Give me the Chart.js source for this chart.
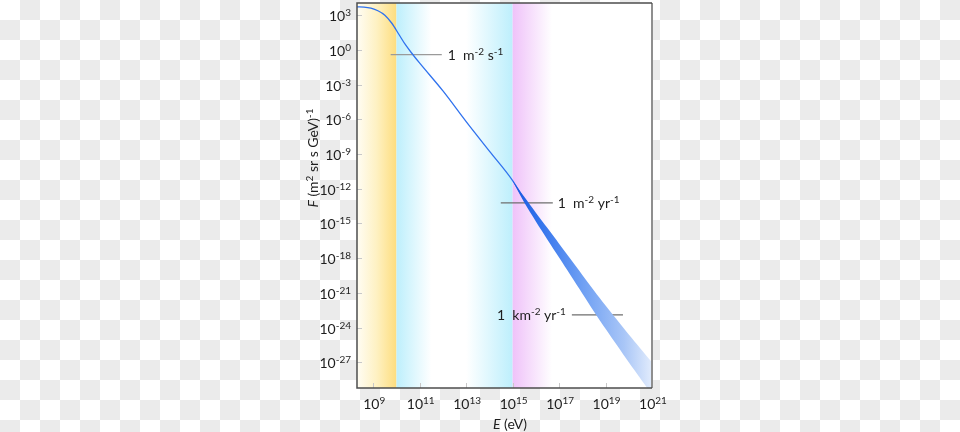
<!DOCTYPE html>
<html>
<head>
<meta charset="utf-8">
<script src="https://cdn.jsdelivr.net/npm/chart.js@4.4.1/dist/chart.umd.min.js"></script>
<style>
  html, body { margin: 0; padding: 0; }
  body {
    width: 960px; height: 432px; overflow: hidden;
    background: repeating-conic-gradient(#ebebeb 0 25%, #ffffff 0 50%) 0 0 / 40px 40px;
  }
  canvas { display: block; }
</style>
</head>
<body>
<canvas id="myChart" width="960" height="432"></canvas>
<script>
// cosmic ray flux, all values are log10 (E in eV, F in m^-2 sr^-1 s^-1 GeV^-1)
var logE = [8.3, 8.6, 8.9, 9.2, 9.5, 9.8, 10.1, 10.4, 10.7, 11.0, 12.0, 13.0, 14.0, 15.0, 15.5];
var logF = [3.72, 3.70, 3.60, 3.38, 3.00, 2.30, 1.35, 0.40, -0.40, -1.15, -3.55, -6.20, -8.75, -11.30, -12.95];

// above the knee the measurement turns into a band
var bandE    = [15.0, 15.5, 16.0, 16.5, 17.0, 17.5, 18.0, 18.5, 19.0, 19.5, 20.0, 20.5, 21.0];
var bandMid  = [-11.30, -12.95, -14.45, -15.9, -17.35, -18.8, -20.25, -21.7, -23.1, -24.45, -25.8, -27.1, -28.4];
var bandHalf = [0.02, 0.25, 0.38, 0.5, 0.6, 0.7, 0.8, 0.9, 1.0, 1.1, 1.2, 1.3, 1.4];

// axis
var xRange = [8.3, 21];
var yRange = [-29.2, 4.05];
var xTicks = [9, 11, 13, 15, 17, 19, 21];
var yTicks = [3, 0, -3, -6, -9, -12, -15, -18, -21, -24, -27];

// shaded energy regions: solar (yellow), galactic (cyan), knee (magenta)
var regionEdges = [8.3, 10, 15, 16.7];

// rate marks
var markLevel = [-0.42, -13.22, -22.9];
var markFrom  = [9.75, 14.49, 17.55];
var markTo    = [11.95, 16.73, 19.75];

var FONT = 'Lato, "Open Sans", sans-serif';

function pts(xs, ys) {
    return xs.map(function(e, i) { return { x: Math.pow(10, e), y: Math.pow(10, ys[i]) }; });
}

// text with superscripts: parts = [[text, 'n'|'i'|'s'], ...]
function richWidth(ctx, parts) {
    var w = 0;
    parts.forEach(function(p) {
        ctx.font = fontFor(p[1]);
        w += ctx.measureText(p[0]).width;
    });
    return w;
}
function fontFor(kind) {
    if (kind == 's') return '10px ' + FONT;
    if (kind == 'i') return 'italic 14px ' + FONT;
    return '14px ' + FONT;
}
function drawRich(ctx, parts, x, y, align) {
    var w = richWidth(ctx, parts);
    var cx = x;
    if (align == 'center') cx = x - w / 2;
    if (align == 'right') cx = x - w;
    ctx.textBaseline = 'alphabetic';
    ctx.textAlign = 'left';
    parts.forEach(function(p) {
        ctx.font = fontFor(p[1]);
        ctx.fillText(p[0], cx, p[1] == 's' ? y - 5 : y);
        cx += ctx.measureText(p[0]).width;
    });
}

var background = {
    id: 'background',
    beforeDatasetsDraw: function(chart) {
        var ctx = chart.ctx, a = chart.chartArea, xs = chart.scales.x;
        var px = regionEdges.map(function(e) { return xs.getPixelForValue(Math.pow(10, e)); });
        ctx.save();
        ctx.fillStyle = '#ffffff';
        ctx.fillRect(a.left, a.top, a.width, a.height);

        var g = ctx.createLinearGradient(px[0], 0, px[1], 0);
        g.addColorStop(0, '#fffdf4');
        g.addColorStop(0.5, '#fef1c2');
        g.addColorStop(1, '#fddd7e');
        ctx.fillStyle = g;
        ctx.fillRect(px[0], a.top, px[1] - px[0], a.height);

        g = ctx.createLinearGradient(px[1], 0, px[2], 0);
        g.addColorStop(0, '#bdeffc');
        g.addColorStop(0.3, '#ffffff');
        g.addColorStop(0.6, '#ffffff');
        g.addColorStop(1, '#bdeffc');
        ctx.fillStyle = g;
        ctx.fillRect(px[1], a.top, px[2] - px[1], a.height);

        g = ctx.createLinearGradient(px[2], 0, px[3], 0);
        g.addColorStop(0, '#efc2f9');
        g.addColorStop(1, 'rgba(255,255,255,1)');
        ctx.fillStyle = g;
        ctx.fillRect(px[2], a.top, px[3] - px[2], a.height);
        ctx.restore();
    }
};

var frame = {
    id: 'frame',
    afterDraw: function(chart) {
        var ctx = chart.ctx, a = chart.chartArea, xs = chart.scales.x, ys = chart.scales.y;
        ctx.save();

        // inner ticks
        ctx.strokeStyle = '#c8c8c8';
        ctx.lineWidth = 1;
        xTicks.forEach(function(e) {
            var x = Math.round(xs.getPixelForValue(Math.pow(10, e))) + 0.5;
            ctx.beginPath(); ctx.moveTo(x, a.bottom); ctx.lineTo(x, a.bottom - 5); ctx.stroke();
        });
        yTicks.forEach(function(e) {
            var y = Math.round(ys.getPixelForValue(Math.pow(10, e))) + 0.5;
            ctx.beginPath(); ctx.moveTo(a.left, y); ctx.lineTo(a.left + 5, y); ctx.stroke();
        });

        // box
        ctx.strokeStyle = '#8f8f8f';
        ctx.lineWidth = 2;
        ctx.beginPath(); ctx.moveTo(a.right, a.top); ctx.lineTo(a.right, a.bottom); ctx.stroke();
        ctx.strokeStyle = '#4d4d4d';
        ctx.lineWidth = 1.5;
        ctx.beginPath();
        ctx.moveTo(a.right, a.top); ctx.lineTo(a.left, a.top);
        ctx.lineTo(a.left, a.bottom); ctx.lineTo(a.right, a.bottom);
        ctx.stroke();

        // tick labels
        ctx.fillStyle = '#1e1e1e';
        xTicks.forEach(function(e) {
            var x = xs.getPixelForValue(Math.pow(10, e));
            drawRich(ctx, [['10', 'n'], [String(e), 's']], x + 1, 409, 'center');
        });
        yTicks.forEach(function(e) {
            var y = ys.getPixelForValue(Math.pow(10, e));
            drawRich(ctx, [['10', 'n'], [String(e), 's']], 351, y + 6, 'right');
        });

        // axis titles
        drawRich(ctx, [['E', 'i'], [' (eV)', 'n']], 510, 429, 'center');
        ctx.save();
        ctx.translate(318, 158);
        ctx.rotate(-Math.PI / 2);
        drawRich(ctx, [['F', 'i'], [' (m', 'n'], ['2', 's'], [' sr s GeV)', 'n'], ['-1', 's']], 0, 0, 'center');
        ctx.restore();

        // rate labels
        var yl = markLevel.map(function(v) { return ys.getPixelForValue(Math.pow(10, v)); });
        var x0 = xs.getPixelForValue(Math.pow(10, markTo[0]));
        var x1 = xs.getPixelForValue(Math.pow(10, markTo[1]));
        var x2 = xs.getPixelForValue(Math.pow(10, markFrom[2]));
        drawRich(ctx, [['1  m', 'n'], ['-2', 's'], [' s', 'n'], ['-1', 's']], x0 + 6, yl[0] + 5, 'left');
        drawRich(ctx, [['1  m', 'n'], ['-2', 's'], [' yr', 'n'], ['-1', 's']], x1 + 5, yl[1] + 5, 'left');
        drawRich(ctx, [['1  km', 'n'], ['-2', 's'], [' yr', 'n'], ['-1', 's']], x2 - 6, yl[2] + 5, 'right');
        ctx.restore();
    }
};

function bandFill(context) {
    var chart = context.chart;
    if (!chart.chartArea) return '#5a90f0';
    var xs = chart.scales.x;
    var g = chart.ctx.createLinearGradient(xs.getPixelForValue(1e15), 0, xs.getPixelForValue(1e21), 0);
    g.addColorStop(0, '#1656e0');
    g.addColorStop(0.2, '#3474ec');
    g.addColorStop(0.5, '#6e9ff3');
    g.addColorStop(0.8, '#a9c6f7');
    g.addColorStop(1, '#e2ecfc');
    return g;
}

var markSets = markLevel.map(function(v, i) {
    return {
        data: pts([markFrom[i], markTo[i]], [v, v]),
        borderColor: i == 0 ? '#9a9a9a' : '#6e6e6e',
        borderWidth: 1.2,
        pointRadius: 0,
        fill: false
    };
});

var ctx = document.getElementById('myChart').getContext('2d');
var chart = new Chart(ctx, {
    type: 'line',
    data: {
        datasets: [{
            data: pts(bandE, bandMid.map(function(m, i) { return m + bandHalf[i]; })),
            borderWidth: 0,
            borderColor: 'rgba(0,0,0,0)',
            backgroundColor: bandFill,
            pointRadius: 0,
            tension: 0.3,
            fill: '+1'
        }, {
            data: pts(bandE, bandMid.map(function(m, i) { return m - bandHalf[i]; })),
            borderWidth: 0,
            borderColor: 'rgba(0,0,0,0)',
            pointRadius: 0,
            tension: 0.3,
            fill: false
        }, {
            data: pts(logE, logF),
            borderColor: '#2f72ee',
            borderWidth: 1.3,
            pointRadius: 0,
            cubicInterpolationMode: 'monotone',
            fill: false
        }].concat(markSets)
    },
    options: {
        responsive: false,
        animation: false,
        devicePixelRatio: 1,
        layout: { padding: { left: 357, right: 308, top: 3, bottom: 44 } },
        plugins: { legend: { display: false }, tooltip: { enabled: false } },
        scales: {
            x: {
                type: 'logarithmic',
                display: false,
                min: Math.pow(10, xRange[0]),
                max: Math.pow(10, xRange[1])
            },
            y: {
                type: 'logarithmic',
                display: false,
                min: Math.pow(10, yRange[0]),
                max: Math.pow(10, yRange[1])
            }
        }
    },
    plugins: [background, frame]
});
</script>
</body>
</html>
